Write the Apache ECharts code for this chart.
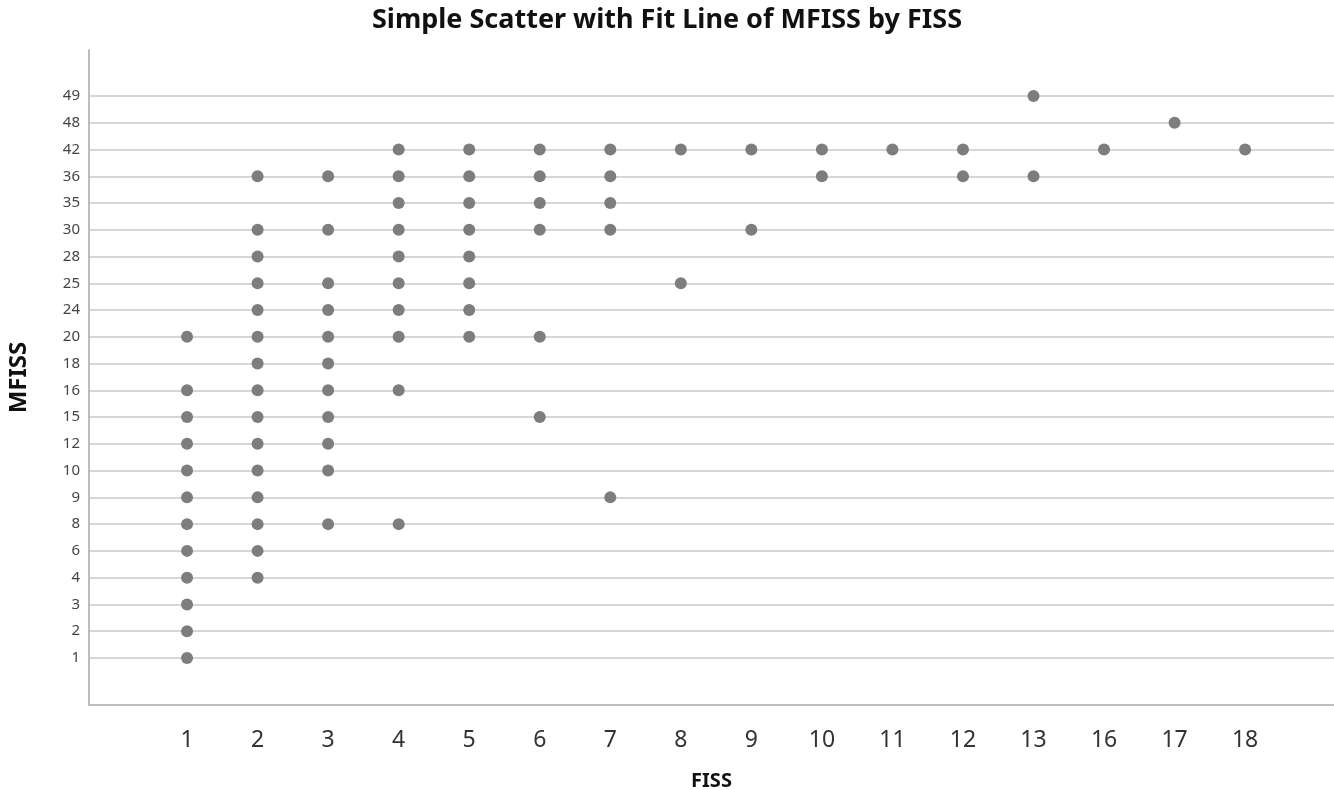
<!DOCTYPE html>
<html>
<head>
<meta charset="utf-8">
<script src="https://cdn.jsdelivr.net/npm/echarts@6/dist/echarts.min.js"></script>
<style>
  html, body { margin: 0; padding: 0; background: #fff; }
  #main { width: 1334px; height: 790px; }
</style>
</head>
<body>
<div id="main"></div>
<script>
// FISS categories (x) and MFISS categories (y), as they appear on the axes
var xCats = [1, 2, 3, 4, 5, 6, 7, 8, 9, 10, 11, 12, 13, 16, 17, 18];
var yCats = [1, 2, 3, 4, 6, 8, 9, 10, 12, 15, 16, 18, 20, 24, 25, 28, 30, 35, 36, 42, 48, 49];

// MFISS values observed for each FISS value
var fiss1 = [20, 16, 15, 12, 10, 9, 8, 6, 4, 3, 2, 1];
var fiss2 = [36, 30, 28, 25, 24, 20, 18, 16, 15, 12, 10, 9, 8, 6, 4];
var fiss3 = [36, 30, 25, 24, 20, 18, 16, 15, 12, 10, 8];
var fiss4 = [42, 36, 35, 30, 28, 25, 24, 20, 16, 8];
var fiss5 = [42, 36, 35, 30, 28, 25, 24, 20];
var fiss6 = [42, 36, 35, 30, 20, 15];
var fiss7 = [42, 36, 35, 30, 9];
var fiss8 = [42, 25];
var fiss9 = [42, 30];
var fiss10 = [42, 36];
var fiss11 = [42];
var fiss12 = [42, 36];
var fiss13 = [49, 36];
var fiss16 = [42];
var fiss17 = [48];
var fiss18 = [42];

var groups = [fiss1, fiss2, fiss3, fiss4, fiss5, fiss6, fiss7, fiss8, fiss9,
  fiss10, fiss11, fiss12, fiss13, fiss16, fiss17, fiss18];

// points as [x category index, y category index]
var points = [];
groups.forEach(function(vals, xi) {
  vals.forEach(function(v) {
    points.push([xi, yCats.indexOf(v)]);
  });
});

var xIdx = xCats.map(function(c, i) { return i; });
var yIdx = yCats.map(function(c, i) { return i; });

var FONT = '"Noto Sans", sans-serif';

var myChart = echarts.init(document.getElementById('main'));

var option = {
  backgroundColor: '#fff',
  animation: false,
  title: {
    text: 'Simple Scatter with Fit Line of MFISS by FISS',
    left: 'center',
    top: 2,
    textStyle: {
      fontFamily: FONT,
      fontSize: 27,
      fontWeight: 'bold',
      color: '#111'
    }
  },
  grid: {
    left: 89,
    right: 0,
    top: 50,
    bottom: 85,
    outerBoundsMode: 'none'
  },
  xAxis: {
    type: 'value',
    min: -1.39,
    max: 16.26,
    name: 'FISS',
    nameLocation: 'middle',
    nameGap: 66,
    nameTextStyle: {
      fontFamily: FONT,
      fontSize: 20,
      fontWeight: 'bold',
      color: '#111'
    },
    axisLine: { show: true, onZero: false, lineStyle: { color: '#bdbdbd', width: 2 } },
    axisTick: { show: false, customValues: xIdx },
    splitLine: { show: false },
    axisLabel: {
      customValues: xIdx,
      margin: 24,
      fontFamily: FONT,
      fontSize: 23,
      color: '#333',
      formatter: function(v) { return xCats[Math.round(v)]; }
    }
  },
  yAxis: {
    type: 'value',
    min: -1.76,
    max: 22.72,
    name: 'MFISS',
    nameLocation: 'middle',
    nameGap: 58,
    nameTextStyle: {
      fontFamily: FONT,
      fontSize: 24,
      fontWeight: 'bold',
      color: '#111'
    },
    axisLine: { show: true, onZero: false, lineStyle: { color: '#bdbdbd', width: 2 } },
    axisTick: { show: false, customValues: yIdx },
    splitLine: { show: true, lineStyle: { color: '#d6d6d6', width: 2 } },
    axisLabel: {
      customValues: yIdx,
      margin: 9,
      fontFamily: FONT,
      fontSize: 15,
      color: '#444',
      formatter: function(v) { return yCats[Math.round(v)]; }
    }
  },
  series: [{
    type: 'scatter',
    symbolSize: 12,
    itemStyle: { color: '#7d7d7d', opacity: 1 },
    data: points
  }]
};

myChart.setOption(option);
</script>
</body>
</html>
